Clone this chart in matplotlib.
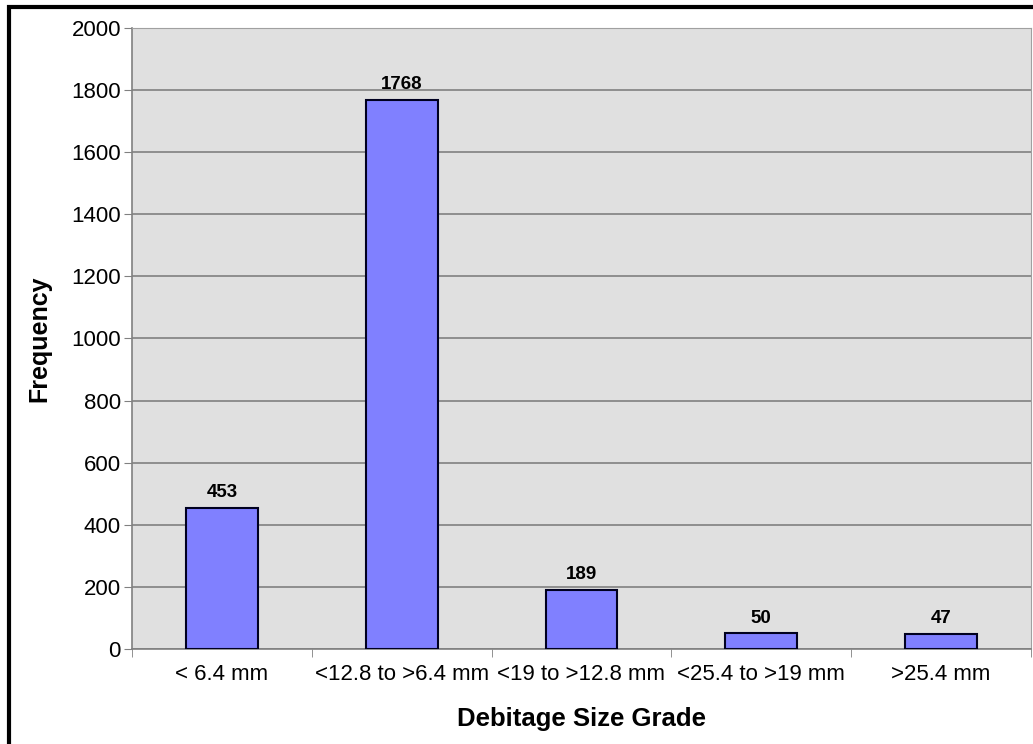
import matplotlib.pyplot as plt
from matplotlib.patches import Rectangle

plt.rcParams['font.family'] = ['Liberation Sans', 'DejaVu Sans']

categories = ["< 6.4 mm", "<12.8 to >6.4 mm", "<19 to >12.8 mm", "<25.4 to >19 mm", ">25.4 mm"]
counts = [453, 1768, 189, 50, 47]
yticks = [0, 200, 400, 600, 800, 1000, 1200, 1400, 1600, 1800, 2000]

fig = plt.figure(figsize=(10.33, 7.44), dpi=100)
ax = fig.add_axes([0.1278, 0.1277, 0.8702, 0.8347])

ax.set_facecolor("#e0e0e0")
x = list(range(len(categories)))
ax.bar(x, counts, width=0.4, color="#8080ff", edgecolor="#000020", linewidth=1.5, zorder=3)

for xi, v in zip(x, counts):
    ax.annotate(str(v), (xi, v), xytext=(0, 5), textcoords="offset points",
                ha="center", va="bottom", fontsize=13.5, fontweight="bold", zorder=4)

ax.set_xlim(-0.5, len(categories) - 0.5)
ax.set_ylim(0, 2000)
ax.set_yticks(yticks)
ax.tick_params(axis="y", labelsize=16, length=6, color="#808080", pad=2)
ax.set_xticks(x)
ax.set_xticklabels(categories)
ax.tick_params(axis="x", which="major", length=0, labelsize=16, pad=11)
ax.set_xticks([i + 0.5 for i in range(-1, len(categories))], minor=True)
ax.tick_params(axis="x", which="minor", length=6, color="#808080")

ax.grid(axis="y", color="#808080", linewidth=1.2, zorder=0)
ax.set_axisbelow(True)
for s in ["top", "right"]:
    ax.spines[s].set_color("#a0a0a0")
for s in ["left", "bottom"]:
    ax.spines[s].set_color("#808080")
    ax.spines[s].set_linewidth(1.2)

ax.set_xlabel("Debitage Size Grade", fontsize=18.5, fontweight="bold", labelpad=16)
ax.set_ylabel("Frequency", fontsize=18, fontweight="bold", labelpad=14)

# black frame around the chart (only left and top visible in the crop)
fig.patches.append(Rectangle((9 / 1033, -0.1), 1.2, 1 - 7 / 744 + 0.1, transform=fig.transFigure,
                             fill=False, edgecolor="black", linewidth=3))

fig.savefig("out.png", dpi=100)
